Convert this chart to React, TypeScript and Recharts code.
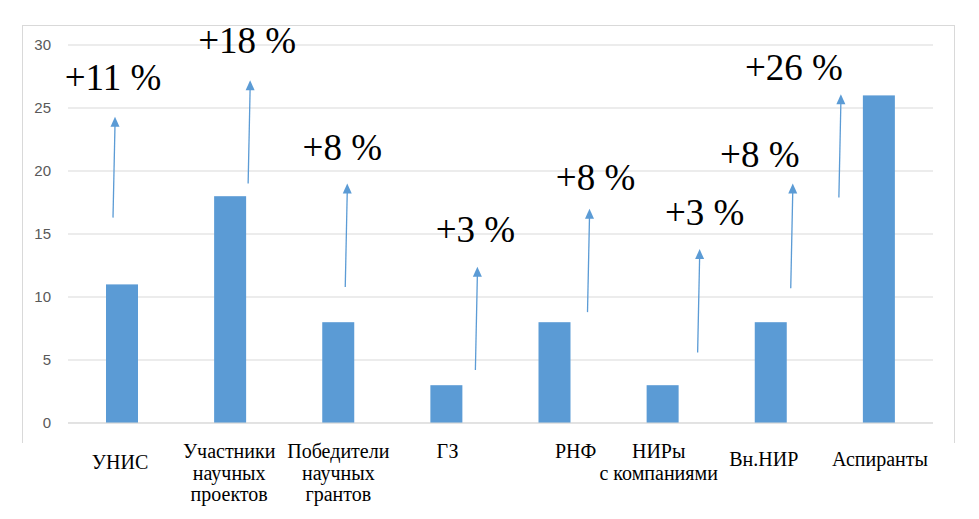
import { Bar, BarChart, CartesianGrid, XAxis, YAxis } from 'recharts'

const categories = [
  'УНИС',
  'Участники\nнаучных\nпроектов',
  'Победители\nнаучных\nгрантов',
  'ГЗ',
  'РНФ',
  'НИРы\nс компаниями',
  'Вн.НИР',
  'Аспиранты',
]
const values = [11, 18, 8, 3, 8, 3, 8, 26]
const growthLabels = ['+11 %', '+18 %', '+8 %', '+3 %', '+8 %', '+3 %', '+8 %', '+26 %']
// arrow start / end and label baseline, in axis units
const arrowFrom = [16.3, 19.0, 10.8, 4.2, 8.8, 5.6, 10.7, 17.9]
const arrowTo = [24.3, 27.2, 19.0, 12.4, 17.0, 13.8, 19.0, 26.1]
const labelAt = [26.4, 29.4, 20.9, 14.4, 18.5, 15.7, 20.3, 27.2]
const yTicks = [0, 5, 10, 15, 20, 25, 30]

const data = categories.map((name, i) => ({ name, value: values[i] }))

// hand-placed offsets (px) from the bar centre, as in the source slide
const arrowDx = [-9, 18, 7, 29, 33, 35, 20, -40]
const textDx = [-9, 17, 4, 29, 41, 42, -11, -85]
const tickNudge = [
  [-2, 46],
  [-1, 35],
  [0, 35],
  [1, 35],
  [21, 35],
  [-4, 35],
  [-7, 43],
  [1, 43],
]

const blue = '#5B9BD5'
const grid = '#d9d9d9'
const serif = '"Liberation Serif", "Times New Roman", serif'

function BarWithNote(props: any) {
  const { x, y, width, height, index } = props
  const v = values[index]
  const ppu = height / v
  const zero = y + height
  const py = (u: number) => zero - u * ppu
  const cx = x + width / 2
  const ax = cx + arrowDx[index]
  const y0 = py(arrowFrom[index])
  const y1 = py(arrowTo[index])
  return (
    <g>
      <rect x={x} y={y} width={width} height={height} fill={blue} />
      <line x1={ax} y1={y0} x2={ax + 2} y2={y1 + 8} stroke={blue} strokeWidth={1.3} />
      <polygon points={`${ax + 2},${y1} ${ax - 2.5},${y1 + 10} ${ax + 6.5},${y1 + 10}`} fill={blue} />
      <text
        x={cx + textDx[index]}
        y={py(labelAt[index])}
        textAnchor="middle"
        style={{ fontFamily: serif, fontSize: 37 }}
        fill="#000"
      >
        {growthLabels[index]}
      </text>
    </g>
  )
}

function CategoryTick(props: any) {
  const { x, y, payload } = props
  const i = payload.index
  const [dx, dy] = tickNudge[i]
  const lines = String(payload.value).split('\n')
  return (
    <text x={x + dx} y={y + dy} textAnchor="middle" style={{ fontFamily: serif, fontSize: 20 }} fill="#000">
      {lines.map((l, k) => (
        <tspan key={k} x={x + dx} dy={k === 0 ? 0 : 21.5}>
          {l}
        </tspan>
      ))}
    </text>
  )
}

export default function App() {
  return (
    <div style={{ position: 'absolute', left: 0, top: 0, width: 979, height: 519, background: '#fff' }}>
      <div
        style={{
          position: 'absolute',
          left: 22,
          top: 25,
          width: 933,
          height: 418,
          boxSizing: 'border-box',
          borderTop: `1px solid ${grid}`,
          borderLeft: `1px solid ${grid}`,
          borderRight: `1px solid ${grid}`,
        }}
      />
      <div style={{ position: 'absolute', left: 0, top: 0 }}>
        <BarChart width={979} height={519} data={data} margin={{ top: 45, right: 46, left: 0, bottom: 0 }}>
          <CartesianGrid stroke={grid} vertical={false} />
          <XAxis
            dataKey="name"
            height={96}
            interval={0}
            tickLine={false}
            tickSize={0}
            tickMargin={0}
            stroke={grid}
            tick={<CategoryTick />}
          />
          <YAxis
            width={68}
            domain={[0, 30]}
            ticks={yTicks}
            axisLine={false}
            tickLine={false}
            tickSize={0}
            tickMargin={17}
            tick={{ fill: '#595959', fontSize: 15, fontFamily: '"Liberation Sans", Arial, sans-serif' }}
          />
          <Bar dataKey="value" barSize={32} shape={<BarWithNote />} isAnimationActive={false} />
        </BarChart>
      </div>
    </div>
  )
}
